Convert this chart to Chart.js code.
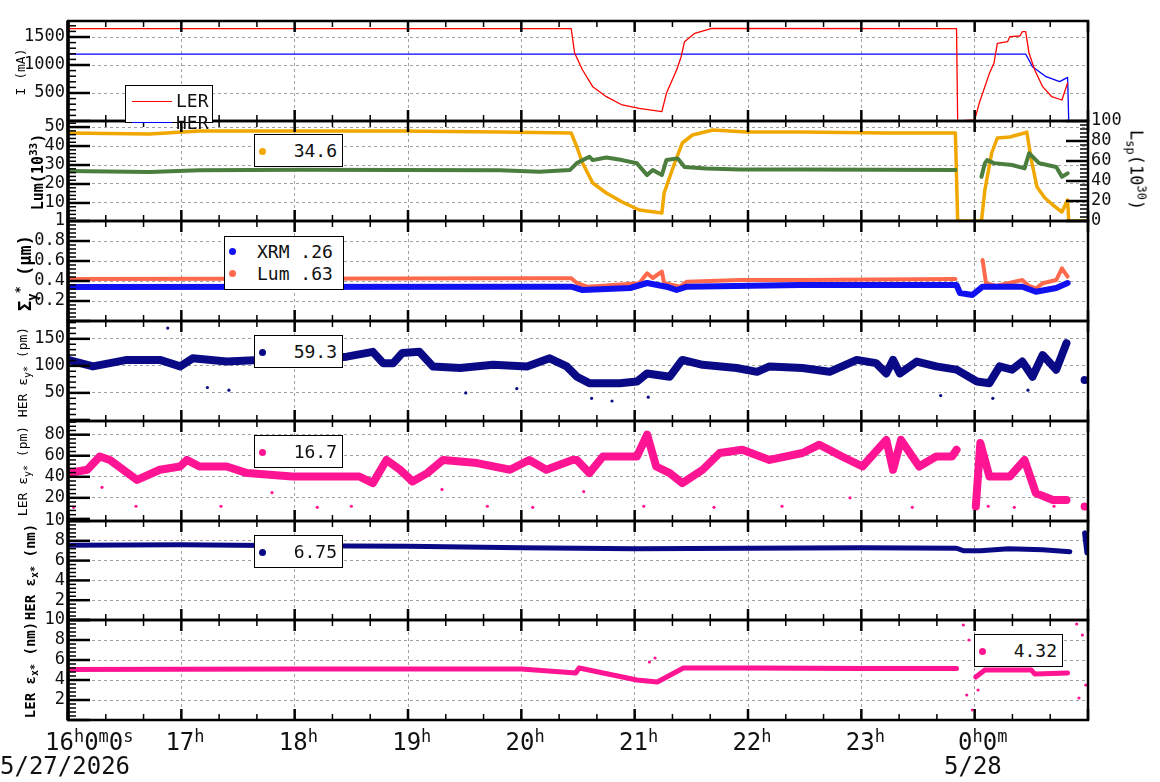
<!DOCTYPE html>
<html>
<head>
<meta charset="utf-8">
<script src="https://cdn.jsdelivr.net/npm/chart.js@4.4.1/dist/chart.umd.min.js"></script>
<style>
  body { margin: 0; background: #fff; width: 1160px; height: 782px; position: relative; overflow: hidden;
         font-family: 'DejaVu Sans Mono', monospace; }
  .pane { position: absolute; left: 0; width: 1160px; }
  .ytitle { position: absolute; white-space: nowrap; transform: translate(-50%, -50%) rotate(-90deg); color: #000; }
  .leg { position: absolute; background: #fff; border: 1.5px solid #000; font-size: 18px; color: #111; box-sizing: border-box; }
  .dot { position: absolute; width: 7px; height: 7px; border-radius: 50%; }
  .xl { position: absolute; font-size: 24px; color: #111; white-space: nowrap; }
  .xl sup { font-size: 17px; vertical-align: 8px; }
</style>
</head>
<body>
<script>
// ---- data (time in hours after 16:00) ----
const hourLabels = ['16', '17', '18', '19', '20', '21', '22', '23', '0'];

const lerCurT = [0, 4.44, 4.47, 4.54, 4.63, 4.75, 4.89, 5.04, 5.24, 5.28, 5.37, 5.41, 5.44, 5.53, 5.68, 7.84, 7.85, 8.00, 8.04, 8.13, 8.17, 8.20, 8.29, 8.31, 8.40, 8.42, 8.45, 8.48, 8.53, 8.60, 8.68, 8.77, 8.82];
const lerCur = [1650, 1650, 1214, 911, 613, 434, 286, 226, 166, 494, 911, 1148, 1416, 1566, 1655, 1650, 0, 18, 316, 851, 1030, 1387, 1417, 1506, 1518, 1595, 1595, 1209, 911, 613, 434, 375, 678];
const herCurT = [0, 8.45, 8.51, 8.63, 8.75, 8.82, 8.83];
const herCur = [1196, 1196, 970, 791, 702, 780, 0];

const lspT = [0, 0.72, 1.16, 2.05, 2.93, 3.81, 4.44, 4.49, 4.54, 4.63, 4.75, 4.89, 5.04, 5.24, 5.26, 5.34, 5.42, 5.51, 5.69, 5.99, 6.46, 7.22, 7.83, 7.85, 8.06, 8.09, 8.15, 8.20, 8.31, 8.44, 8.46, 8.50, 8.55, 8.62, 8.69, 8.77, 8.82, 8.83, 9.0];
const lsp = [88, 87, 90, 90, 90, 89, 88, 74, 58, 38, 28, 19, 11, 8, 28, 54, 78, 86, 91, 89, 89, 88, 88, 0, 0, 31, 68, 83, 84, 88, 89, 61, 34, 23, 16, 9, 21, 0, 0];
const lumT = [0, 0.72, 1.16, 2.05, 3.81, 4.16, 4.43, 4.49, 4.60, 4.63, 4.75, 4.89, 5.02, 5.11, 5.16, 5.24, 5.28, 5.38, 5.44, 5.63, 5.93, 6.46, 7.83, 7.85, 8.06, 8.09, 8.11, 8.17, 8.33, 8.44, 8.48, 8.57, 8.72, 8.77, 8.82];
const lum = [26.8, 26.3, 27.2, 27.5, 27.3, 26.5, 27.4, 31, 34.4, 32.6, 34, 32.6, 30.9, 24.7, 27.4, 24.7, 32.6, 33.5, 29, 28.2, 27.7, 27.7, 27.4, null, 23.8, 30.9, 32.6, 31, 30, 28.2, 36.2, 30.9, 29, 23.8, 25.6];

const sigLumT = [0, 4.16, 4.44, 4.49, 4.58, 5.04, 5.11, 5.16, 5.24, 5.26, 5.40, 5.46, 5.93, 6.46, 7.83, 7.85, 8.07, 8.10, 8.19, 8.42, 8.48, 8.54, 8.60, 8.72, 8.77, 8.82];
const sigLum = [0.42, 0.427, 0.427, 0.38, 0.343, 0.377, 0.477, 0.43, 0.493, 0.38, 0.343, 0.393, 0.41, 0.41, 0.42, null, 0.61, 0.377, 0.35, 0.41, 0.35, 0.327, 0.377, 0.41, 0.527, 0.443];
const sigXrmT = [0, 4.16, 4.44, 4.54, 4.96, 5.11, 5.28, 5.37, 5.46, 6.46, 7.60, 7.84, 7.87, 7.98, 8.07, 8.42, 8.54, 8.72, 8.82];
const sigXrm = [0.34, 0.343, 0.343, 0.31, 0.33, 0.38, 0.343, 0.31, 0.343, 0.36, 0.36, 0.36, 0.28, 0.26, 0.343, 0.343, 0.293, 0.33, 0.38];

const herEyT = [0, 0.22, 0.52, 0.81, 0.99, 1.10, 1.40, 1.69, 1.98, 2.28, 2.46, 2.69, 2.78, 2.87, 2.95, 3.10, 3.22, 3.46, 3.75, 4.05, 4.25, 4.40, 4.49, 4.60, 4.87, 5.02, 5.11, 5.31, 5.42, 5.60, 5.90, 6.08, 6.19, 6.48, 6.72, 6.96, 7.13, 7.22, 7.28, 7.34, 7.49, 7.66, 7.84, 8.02, 8.13, 8.22, 8.33, 8.42, 8.51, 8.60, 8.72, 8.81, 8.83, 8.97];
const herEy = [111, 99, 111, 111, 99, 114, 108, 111, 112, 114, 117, 126, 105, 105, 124, 126, 99, 96, 102, 99, 114, 99, 80, 68, 68, 71, 86, 80, 111, 102, 96, 89, 99, 96, 89, 111, 105, 86, 111, 86, 108, 99, 93, 71, 68, 99, 93, 108, 80, 120, 93, 142, null, 74];
const herEyOutT = [0.88, 1.23, 1.42, 3.51, 3.96, 4.62, 4.80, 5.12, 7.70, 8.16, 8.47];
const herEyOut = [170, 60, 55, 50, 58, 40, 35, 42, 45, 40, 55];

const lerEyT = [0, 0.17, 0.28, 0.37, 0.61, 0.81, 0.99, 1.05, 1.16, 1.40, 1.58, 1.98, 2.28, 2.57, 2.69, 2.81, 2.93, 3.04, 3.17, 3.31, 3.61, 3.90, 4.07, 4.22, 4.45, 4.49, 4.60, 4.72, 5.02, 5.11, 5.19, 5.31, 5.42, 5.60, 5.75, 5.95, 6.19, 6.48, 6.63, 6.83, 7.01, 7.22, 7.28, 7.35, 7.51, 7.66, 7.80, 7.84, 7.87, 8.01, 8.05, 8.13, 8.31, 8.44, 8.54, 8.69, 8.81, 8.83, 8.97];
const lerEy = [43.5, 46.7, 59.3, 56, 37, 46.7, 49.8, 56, 49.8, 49.8, 43.5, 40.3, 40.3, 40.3, 34, 56, 46.7, 35.5, 43.5, 56, 53, 46.7, 56, 46.7, 56, 56, 43.5, 59.3, 59.3, 80, 49.8, 43.5, 34, 46.7, 62.6, 65.7, 56, 62.6, 70.5, 59.3, 49.8, 75, 46.7, 75, 49.8, 59.3, 59.3, 65.7, null, 11.7, 72, 40.3, 40.3, 56, 24.5, 18, 18, null, 11.7];
const lerEyOutT = [0.05, 0.30, 0.60, 1.35, 1.80, 2.20, 2.50, 3.30, 3.70, 4.10, 4.55, 5.08, 5.70, 6.30, 6.90, 7.45, 8.12, 8.35, 8.70];
const lerEyOut = [11, 30, 12, 12, 25, 11, 12, 28, 12, 11, 26, 12, 11, 12, 20, 11, 12, 11, 12];

const herExT = [0, 1, 2, 3, 4, 5, 6, 7, 7.84, 7.90, 8.05, 8.30, 8.60, 8.84, 8.95, 8.97, 8.99];
const herEx = [7.55, 7.6, 7.5, 7.45, 7.3, 7.2, 7.25, 7.3, 7.25, 7.0, 7.0, 7.2, 7.1, 6.9, null, 8.8, 6.8];

const lerExT = [0, 2, 4, 4.48, 4.51, 5.02, 5.20, 5.43, 6, 7, 7.84, 7.85, 8.01, 8.09, 8.50, 8.53, 8.82];
const lerEx = [5.05, 5.1, 5.1, 4.7, 5.2, 4.0, 3.8, 5.2, 5.2, 5.15, 5.15, null, 4.3, 5.0, 5.0, 4.6, 4.7];
const lerExOutT = [7.90, 7.93, 7.95, 7.98, 8.03, 8.90, 8.92, 8.95, 8.98, 5.13, 5.18];
const lerExOut = [9.5, 2.5, 8, 1, 3, 9.6, 2.2, 8.5, 3.5, 5.8, 6.2];

// ---- layout ----
const FONT = "'DejaVu Sans Mono', monospace";
const PAD = 14;

function pts(t, v) { return t.map((x, i) => ({ x: x, y: v[i] })); }

const frame = {
  id: 'frame',
  afterDraw(chart) {
    const c = chart.ctx, a = chart.chartArea;
    c.save();
    c.strokeStyle = '#000';
    // x ticks top and bottom
    const xs = chart.scales.x;
    for (let m = 0; m <= 27; m++) {
      const px = xs.getPixelForValue(m / 3);
      const len = m % 3 === 0 ? 11 : 6;
      c.lineWidth = m % 3 === 0 ? 2.5 : 1.5;
      c.beginPath();
      c.moveTo(px, a.bottom); c.lineTo(px, a.bottom - len);
      c.moveTo(px, a.top); c.lineTo(px, a.top + len);
      c.stroke();
    }
    // y ticks, left and right
    ['y', 'y1'].forEach(id => {
      const s = chart.scales[id];
      if (!s) return;
      const major = s.options.majorStep, minor = major / 5;
      const left = id === 'y';
      const edge = left ? a.left : a.right;
      const dir = left ? 1 : -1;
      for (let v = Math.ceil(s.min / minor) * minor; v <= s.max + 1e-9; v += minor) {
        const py = s.getPixelForValue(v);
        const isMaj = Math.abs(v / major - Math.round(v / major)) < 1e-6;
        c.lineWidth = isMaj ? 2.5 : 1.5;
        c.beginPath();
        c.moveTo(edge, py); c.lineTo(edge + dir * (isMaj ? 22 : 8), py);
        c.stroke();
      }
    });
    c.lineWidth = 2.5;
    c.strokeRect(a.left, a.top, a.right - a.left, a.bottom - a.top);
    c.lineWidth = 3.5;
    c.beginPath(); c.moveTo(a.left, a.top); c.lineTo(a.left, a.bottom); c.stroke();
    c.restore();
  }
};

function yAxis(min, max, tickVals, step, label) {
  return {
    type: 'linear', position: 'left', min: min, max: max, majorStep: step,
    afterBuildTicks: s => { s.ticks = tickVals.map(v => ({ value: v })); },
    afterFit: s => { s.width = 68; },
    ticks: { color: '#111', font: { family: FONT, size: 17 }, padding: 3, autoSkip: false,
             callback: label || (v => String(v)) },
    grid: { color: '#a0a0a0', lineWidth: 1, drawTicks: false },
    border: { display: false, dash: [3, 3] }
  };
}

function panel(top, bottom, yCfg, datasets, y1Cfg) {
  const div = document.createElement('div');
  div.className = 'pane';
  div.style.top = (top - PAD) + 'px';
  div.style.height = (bottom - top + 2 * PAD) + 'px';
  const cv = document.createElement('canvas');
  div.appendChild(cv);
  document.body.appendChild(div);
  const scales = {
    x: {
      type: 'linear', min: 0, max: 9,
      afterBuildTicks: s => { s.ticks = hourLabels.map((h, i) => ({ value: i })); },
      afterFit: s => { s.height = 0; },
      ticks: { display: false },
      grid: { color: '#a0a0a0', lineWidth: 1, drawTicks: false },
      border: { display: false, dash: [3, 3] }
    },
    y: yCfg
  };
  if (y1Cfg) scales.y1 = y1Cfg;
  new Chart(cv, {
    type: 'line',
    data: { datasets: datasets },
    options: {
      responsive: true, maintainAspectRatio: false, animation: false,
      layout: { autoPadding: false, padding: { top: PAD, bottom: PAD, left: 0, right: y1Cfg ? 0 : 72 } },
      plugins: { legend: { display: false }, tooltip: { enabled: false } },
      elements: { point: { radius: 0 }, line: { tension: 0 } },
      scales: scales
    },
    plugins: [frame]
  });
}

function band(t, v, color, w, axis) {
  return { data: pts(t, v), borderColor: color, backgroundColor: color, borderWidth: w,
           pointRadius: 0, spanGaps: false, yAxisID: axis || 'y', borderJoinStyle: 'round', borderCapStyle: 'round' };
}
function dots(t, v, color) {
  return { data: pts(t, v), showLine: false, pointRadius: 1.6, pointBackgroundColor: color,
           pointBorderWidth: 0, yAxisID: 'y' };
}
const hideZero = v => (v === 0 ? '' : String(v));

panel(21, 121, yAxis(0, 1786, [0, 500, 1000, 1500], 500, hideZero), [
  band(lerCurT, lerCur, '#ff0000', 1.3),
  band(herCurT, herCur, '#0000ff', 1.3)
]);

const y1 = {
  type: 'linear', position: 'right', min: 0, max: 100, majorStep: 20,
  afterBuildTicks: s => { s.ticks = [0, 20, 40, 60, 80, 100].map(v => ({ value: v })); },
  afterFit: s => { s.width = 72; },
  ticks: { color: '#111', font: { family: FONT, size: 17 }, padding: 3, autoSkip: false },
  grid: { display: false, drawTicks: false },
  border: { display: false }
};
panel(121, 221, yAxis(0.5, 53.2, [10, 20, 30, 40, 50], 10), [
  band(lumT, lum, '#4b7d3e', 4),
  band(lspT, lsp, '#f0a800', 3.5, 'y1')
], y1);

panel(221, 321, yAxis(0, 1, [0, 0.2, 0.4, 0.6, 0.8, 1], 0.2, v => (v === 0 ? '' : v === 1 ? '1' : v.toFixed(1))), [
  band(sigXrmT, sigXrm, '#1010f0', 6),
  band(sigLumT, sigLum, '#ff6a4d', 4)
]);

panel(321, 421, yAxis(-2, 183, [50, 100, 150], 50), [
  band(herEyT, herEy, '#0a0a86', 8),
  dots(herEyOutT, herEyOut, '#0a0a86')
]);

panel(421, 521, yAxis(-2, 93, [20, 40, 60, 80], 20), [
  band(lerEyT, lerEy, '#ff1493', 8),
  dots(lerEyOutT, lerEyOut, '#ff1493')
]);

panel(521, 620, yAxis(0, 10, [0, 2, 4, 6, 8, 10], 2, hideZero), [
  band(herExT, herEx, '#0a0a86', 5)
]);

panel(620, 720, yAxis(0, 10, [0, 2, 4, 6, 8, 10], 2, hideZero), [
  band(lerExT, lerEx, '#ff1493', 5),
  dots(lerExOutT, lerExOut, '#ff1493')
]);

// ---- axis titles, legends, time labels ----
function html(s) { const d = document.createElement('div'); d.innerHTML = s; document.body.appendChild(d.firstElementChild); }

html('<div class="ytitle" style="left:20px;top:72px;font-size:13px">I (mA)</div>');
html('<div class="ytitle" style="left:37px;top:172px;font-size:15px;font-weight:bold">Lum(10<sup style="font-size:11px">33</sup>)</div>');
html('<div class="ytitle" style="left:26px;top:273px;font-size:17px;font-weight:bold">Σ<sub style="font-size:12px">y</sub><sup style="font-size:12px">*</sup> (μm)</div>');
html('<div class="ytitle" style="left:24px;top:372px;font-size:13px">HER ε<sub style="font-size:10px">y*</sub> (pm)</div>');
html('<div class="ytitle" style="left:24px;top:471px;font-size:13px">LER ε<sub style="font-size:10px">y*</sub> (pm)</div>');
html('<div class="ytitle" style="left:31px;top:572px;font-size:14px;font-weight:bold">HER ε<sub style="font-size:10px">x*</sub> (nm)</div>');
html('<div class="ytitle" style="left:31px;top:670px;font-size:14px;font-weight:bold">LER ε<sub style="font-size:10px">x*</sub> (nm)</div>');
html('<div class="ytitle" style="left:1136px;top:170px;font-size:17px;transform:translate(-50%,-50%) rotate(90deg)">L<sub style="font-size:12px">sp</sub>(10<sup style="font-size:12px">30</sup>)</div>');

html('<div class="leg" style="left:125px;top:85px;width:88px;height:38px">' +
     '<div style="position:absolute;left:6px;top:15px;width:40px;height:1px;background:#ff0000"></div>' +
     '<div style="position:absolute;left:6px;top:36px;width:40px;height:1px;background:#0000ff"></div>' +
     '<div style="position:absolute;left:50px;top:4px">LER</div>' +
     '<div style="position:absolute;left:50px;top:26px">HER</div></div>');

function valLeg(x, y, color, text) {
  html('<div class="leg" style="left:' + x + 'px;top:' + y + 'px;width:89px;height:33px">' +
       '<div class="dot" style="left:4px;top:13px;background:' + color + '"></div>' +
       '<div style="position:absolute;right:5px;top:5px">' + text + '</div></div>');
}
valLeg(254, 134, '#f0a800', '34.6');
valLeg(254, 335, '#0a0a86', '59.3');
valLeg(254, 435, '#ff1493', '16.7');
valLeg(254, 535, '#0a0a86', '6.75');
valLeg(974, 634, '#ff1493', '4.32');
html('<div class="leg" style="left:224px;top:236px;width:120px;height:54px">' +
     '<div class="dot" style="left:4px;top:11px;background:#1010f0"></div>' +
     '<div class="dot" style="left:4px;top:33px;background:#ff6a4d"></div>' +
     '<div style="position:absolute;left:32px;top:4px">XRM  .26</div>' +
     '<div style="position:absolute;left:32px;top:26px">Lum  .63</div></div>');

html('<div class="xl" style="left:45px;top:726px">16<sup>h</sup>0<sup>m</sup>0<sup>s</sup></div>');
for (let i = 1; i < 8; i++) {
  html('<div class="xl" style="left:' + (68 + 113.4 * i - 16) + 'px;top:726px">' + hourLabels[i] + '<sup>h</sup></div>');
}
html('<div class="xl" style="left:958px;top:726px">0<sup>h</sup>0<sup>m</sup></div>');
html('<div class="xl" style="left:0px;top:752px">5/27/2026</div>');
html('<div class="xl" style="left:944px;top:752px">5/28</div>');
</script>
</body>
</html>
